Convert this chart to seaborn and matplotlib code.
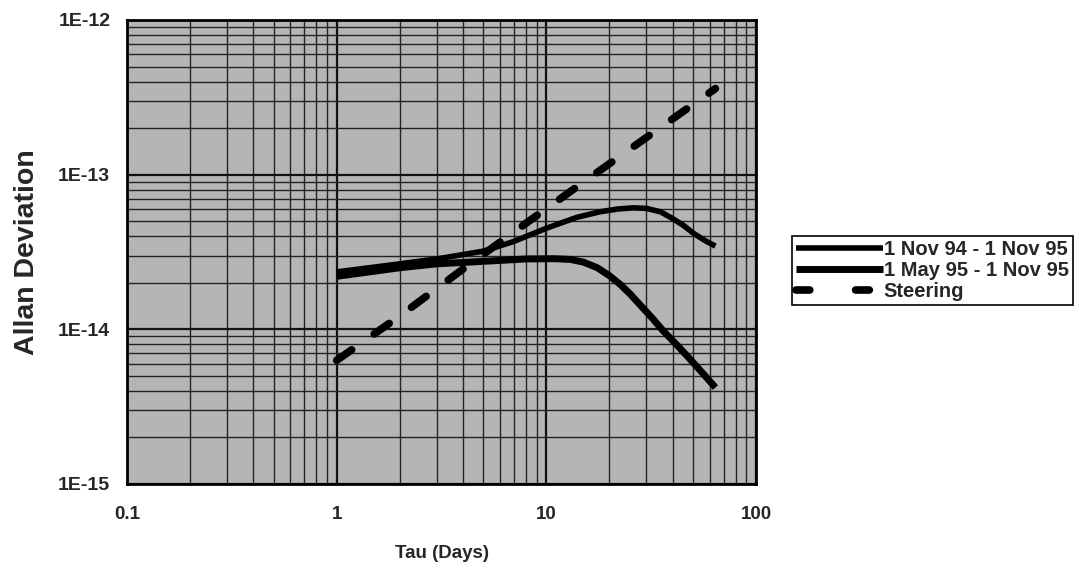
import numpy as np
import pandas as pd
import seaborn as sns
import matplotlib
matplotlib.use("Agg")
import matplotlib.pyplot as plt
from matplotlib.ticker import LogLocator, FixedLocator, NullFormatter

# %% data
tau_a = [1, 2, 3, 5, 7, 10, 14, 18, 22, 26, 30, 35, 40, 45, 50, 57, 64]
adev_a = [2.35e-14, 2.65e-14, 2.85e-14, 3.2e-14, 3.7e-14, 4.5e-14, 5.3e-14,
          5.75e-14, 6.0e-14, 6.1e-14, 6.05e-14, 5.75e-14, 5.2e-14, 4.7e-14,
          4.2e-14, 3.75e-14, 3.45e-14]

tau_b = [1, 2, 3, 5, 8, 11, 13, 15, 17.5, 20, 22.5, 25, 28.5, 32, 36, 42, 48,
         55, 64]
adev_b = [2.2e-14, 2.5e-14, 2.65e-14, 2.75e-14, 2.85e-14, 2.86e-14, 2.83e-14,
          2.72e-14, 2.5e-14, 2.22e-14, 1.95e-14, 1.7e-14, 1.4e-14, 1.18e-14,
          9.8e-15, 7.9e-15, 6.5e-15, 5.3e-15, 4.2e-15]

tau_s = [1, 2, 4, 8, 16, 32, 64]
adev_s = [6.3e-15, 1.22e-14, 2.45e-14, 4.85e-14, 9.5e-14, 1.85e-13, 3.6e-13]

labels = ["1 Nov 94 - 1 Nov 95", "1 May 95 - 1 Nov 95", "Steering"]
xticks = [0.1, 1, 10, 100]
xticklabels = ["0.1", "1", "10", "100"]
yticks = [1e-15, 1e-14, 1e-13, 1e-12]
yticklabels = ["1E-15", "1E-14", "1E-13", "1E-12"]

df_a = pd.DataFrame({"tau": tau_a, "adev": adev_a})
df_b = pd.DataFrame({"tau": tau_b, "adev": adev_b})
df_s = pd.DataFrame({"tau": tau_s, "adev": adev_s})

# %%
sns.set_style("white")
plt.rcParams["font.family"] = ["Liberation Sans", "DejaVu Sans"]
plt.rcParams["font.weight"] = "bold"

fig = plt.figure(figsize=(10.79, 5.75), dpi=100)
ax = fig.add_axes([0.1177, 0.1583, 0.583, 0.807])
ax.set_facecolor("#b5b5b5")

sns.lineplot(data=df_a, x="tau", y="adev", ax=ax, color="black", lw=4.0,
             label=labels[0], solid_capstyle="butt", solid_joinstyle="round")
sns.lineplot(data=df_b, x="tau", y="adev", ax=ax, color="black", lw=5.0,
             label=labels[1], solid_capstyle="butt", solid_joinstyle="round")
sns.lineplot(data=df_s, x="tau", y="adev", ax=ax, color="black", lw=5.5,
             label=labels[2])
ax.lines[-1].set_dashes((2.4, 3.6))
ax.lines[-1].set_dash_capstyle("round")

ax.set_xscale("log")
ax.set_yscale("log")
ax.set_xlim(0.1, 100)
ax.set_ylim(1e-15, 1e-12)

ax.xaxis.set_major_locator(FixedLocator(xticks))
ax.yaxis.set_major_locator(FixedLocator(yticks))
ax.set_xticklabels(xticklabels)
ax.set_yticklabels(yticklabels)
ax.xaxis.set_minor_locator(LogLocator(base=10, subs=np.arange(2, 10)))
ax.yaxis.set_minor_locator(LogLocator(base=10, subs=np.arange(2, 10)))
ax.xaxis.set_minor_formatter(NullFormatter())
ax.yaxis.set_minor_formatter(NullFormatter())

ax.grid(True, which="major", color="#111111", lw=1.6)
ax.grid(True, which="minor", color="#222222", lw=1.0)
ax.set_axisbelow(True)

ax.tick_params(axis="both", which="both", length=0)
ax.tick_params(axis="x", pad=16, labelsize=13.5)
ax.tick_params(axis="y", pad=12, labelsize=14)
for t in ax.get_xticklabels() + ax.get_yticklabels():
    t.set_fontweight("bold")

for s in ax.spines.values():
    s.set_color("black")
    s.set_linewidth(2.0)

ax.set_xlabel("Tau (Days)", fontsize=13.5, fontweight="bold", labelpad=16)
ax.set_ylabel("Allan Deviation", fontsize=20.5, fontweight="bold", labelpad=13)

leg = ax.legend(loc="upper left", bbox_to_anchor=(0.734, 0.589),
                bbox_transform=fig.transFigure, frameon=True, fancybox=False,
                fontsize=14.5, handlelength=4.3, handletextpad=0.05,
                borderpad=0.2, labelspacing=0.08, borderaxespad=0)
leg.get_frame().set_edgecolor("black")
leg.get_frame().set_linewidth(1.2)
leg.get_frame().set_facecolor("white")
leg.get_frame().set_alpha(1)
for t in leg.get_texts():
    t.set_fontweight("bold")
leg.legend_handles[2].set_dashes((1.8, 6.0))

fig.savefig("out.png", dpi=100)
